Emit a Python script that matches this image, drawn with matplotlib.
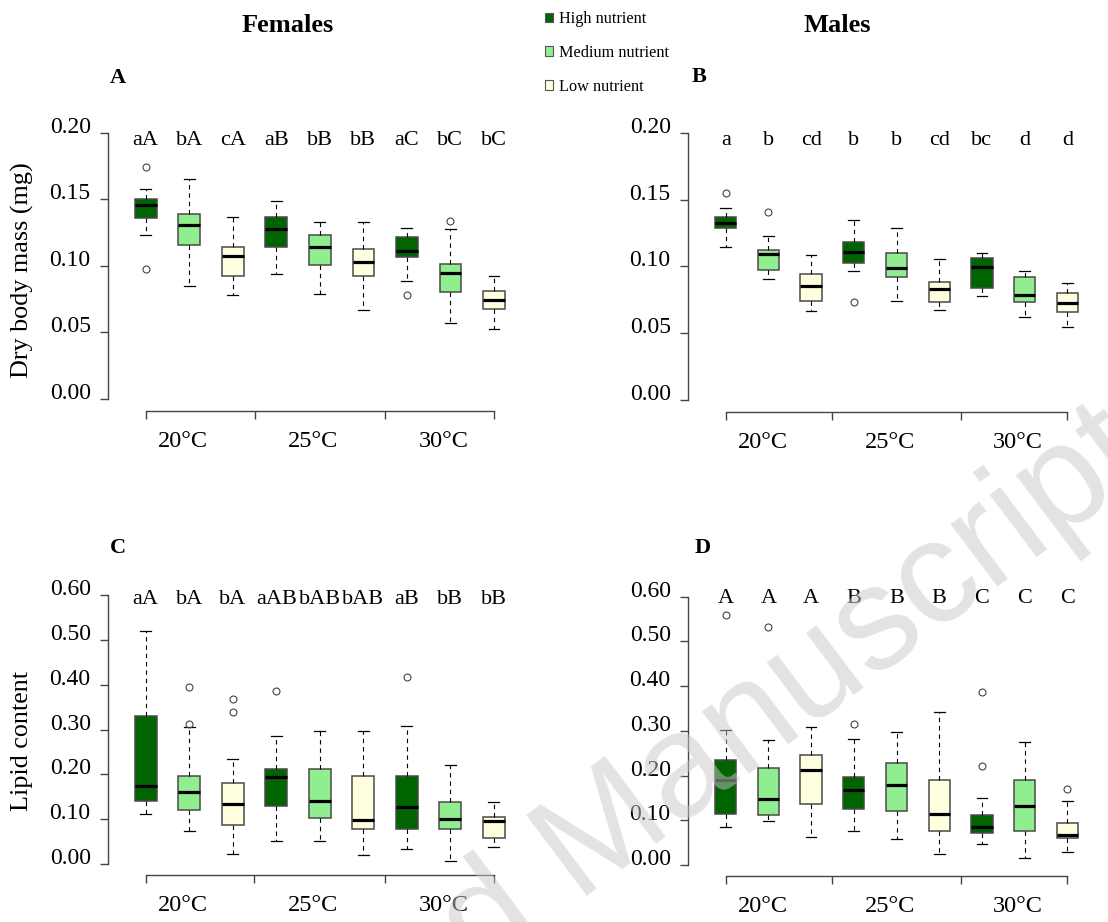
import matplotlib
matplotlib.use('Agg')
import matplotlib.pyplot as plt
from matplotlib.patches import Patch

W, H, DPI = 1108, 922, 100
SERIF = 'Liberation Serif'

# ---------------- data ----------------
temps = ['20°C', '25°C', '30°C']
nutrients = ['High nutrient', 'Medium nutrient', 'Low nutrient']
nutrient_colors = ['#006400', '#90EE90', '#FFFFE0']

# Panel A: females, dry body mass (mg)
fm_lo  = [0.1231, 0.0849, 0.0778, 0.0939, 0.0786, 0.0671, 0.0889, 0.0568, 0.0526]
fm_q1  = [0.1357, 0.1159, 0.0924, 0.1144, 0.1006, 0.0924, 0.1066, 0.0801, 0.0676]
fm_med = [0.1454, 0.1309, 0.1071, 0.1274, 0.1144, 0.1026, 0.1111, 0.0946, 0.0746]
fm_q3  = [0.1500, 0.1389, 0.1144, 0.1369, 0.1231, 0.1129, 0.1214, 0.1011, 0.0813]
fm_hi  = [0.1574, 0.1650, 0.1364, 0.1487, 0.1327, 0.1327, 0.1282, 0.1274, 0.0926]
fm_out = [[0.174, 0.0974], [], [], [], [], [], [0.0781], [0.1339], []]
fm_letters = ['aA', 'bA', 'cA', 'aB', 'bB', 'bB', 'aC', 'bC', 'bC']

# Panel B: males, dry body mass (mg)
mm_lo  = [0.1147, 0.0908, 0.0668, 0.0963, 0.0743, 0.0673, 0.0776, 0.0619, 0.0544]
mm_q1  = [0.1284, 0.0970, 0.0743, 0.1023, 0.0920, 0.0736, 0.0838, 0.0731, 0.0656]
mm_med = [0.1327, 0.1092, 0.0853, 0.1107, 0.0990, 0.0830, 0.0998, 0.0786, 0.0723]
mm_q3  = [0.1372, 0.1125, 0.0940, 0.1180, 0.1102, 0.0885, 0.1062, 0.0920, 0.0803]
mm_hi  = [0.1439, 0.1227, 0.1085, 0.1344, 0.1284, 0.1057, 0.1102, 0.0968, 0.0873]
mm_out = [[0.1551], [0.1409], [], [0.0736], [], [], [], [], []]
mm_letters = ['a', 'b', 'cd', 'b', 'b', 'cd', 'bc', 'd', 'd']

# Panel C: females, lipid content
fl_lo  = [0.1115, 0.0729, 0.0223, 0.0506, 0.0506, 0.0201, 0.0327, 0.0074, 0.0387]
fl_q1  = [0.1405, 0.1204, 0.0870, 0.1301, 0.1019, 0.0781, 0.0781, 0.0781, 0.0573]
fl_med = [0.1732, 0.1613, 0.1346, 0.1933, 0.1413, 0.0981, 0.1279, 0.0996, 0.0967]
fl_q3  = [0.3309, 0.1970, 0.1814, 0.2112, 0.2126, 0.1970, 0.1970, 0.1383, 0.1056]
fl_hi  = [0.5204, 0.3056, 0.2335, 0.2855, 0.2974, 0.2974, 0.3086, 0.2201, 0.1390]
fl_out = [[], [0.3955, 0.3123], [0.368, 0.3383], [0.3859], [], [], [0.4178], [], []]
fl_letters = ['aA', 'bA', 'bA', 'aAB', 'bAB', 'bAB', 'aB', 'bB', 'bB']

# Panel D: males, lipid content
ml_lo  = [0.0842, 0.0991, 0.0634, 0.0753, 0.0574, 0.0238, 0.0470, 0.0149, 0.0283]
ml_q1  = [0.1148, 0.1125, 0.1371, 0.1252, 0.1207, 0.0753, 0.0715, 0.0753, 0.0596]
ml_med = [0.1901, 0.1476, 0.2124, 0.1669, 0.1781, 0.1148, 0.0842, 0.1327, 0.0678]
ml_q3  = [0.2340, 0.2176, 0.2452, 0.1975, 0.2288, 0.1893, 0.1118, 0.1908, 0.0932]
ml_hi  = [0.3019, 0.2795, 0.3086, 0.2825, 0.2974, 0.3413, 0.1491, 0.2758, 0.1431]
ml_out = [[0.5582], [0.5314], [], [0.3153], [], [], [0.3868, 0.2214], [], [0.1692]]
ml_letters = ['A', 'A', 'A', 'B', 'B', 'B', 'C', 'C', 'C']

mass_ticks = [0.00, 0.05, 0.10, 0.15, 0.20]
lipid_ticks = [0.00, 0.10, 0.20, 0.30, 0.40, 0.50, 0.60]

# ---------------- figure ----------------
fig = plt.figure(figsize=(W / DPI, H / DPI), dpi=DPI)
fig.patch.set_facecolor('white')


def make_axes(spine_x, p1_x, p9_x, y0_px, ytop_px, ytop_val, bottom_px, right_px, top_px):
    ux = (p9_x - p1_x) / 8.0
    uy = (y0_px - ytop_px) / ytop_val
    ax = fig.add_axes([spine_x / W, 1 - bottom_px / H,
                       (right_px - spine_x) / W, (bottom_px - top_px) / H])
    ax.set_xlim(1 - (p1_x - spine_x) / ux, 9 + (right_px - p9_x) / ux)
    ax.set_ylim(-(bottom_px - y0_px) / uy, ytop_val + (ytop_px - top_px) / uy)
    ax.patch.set_alpha(0)
    return ax


def draw_panel(ax, lo, q1, med, q3, hi, out, letters, yticks, letter_y):
    stats = [dict(whislo=a, q1=b, med=c, q3=d, whishi=e, fliers=f)
             for a, b, c, d, e, f in zip(lo, q1, med, q3, hi, out)]
    bp = ax.bxp(stats, positions=list(range(1, 10)), widths=0.5, patch_artist=True,
                showfliers=True, capwidths=0.25,
                boxprops=dict(edgecolor='#4a4a4a', linewidth=1.1),
                medianprops=dict(color='black', linewidth=2.3, solid_capstyle='butt'),
                whiskerprops=dict(color='black', linestyle=(0, (4, 3.5)), linewidth=0.8),
                capprops=dict(color='black', linewidth=0.9),
                flierprops=dict(marker='o', markersize=5, markerfacecolor='none',
                                markeredgecolor='#444444', markeredgewidth=0.8))
    for patch, col in zip(bp['boxes'], nutrient_colors * 3):
        patch.set_facecolor(col)

    for s in ['top', 'right']:
        ax.spines[s].set_visible(False)
    for s in ['left', 'bottom']:
        ax.spines[s].set_color('#444444')
        ax.spines[s].set_linewidth(1.0)
    ax.spines['left'].set_bounds(yticks[0], yticks[-1])
    ax.spines['bottom'].set_bounds(1, 9)

    ax.set_xticks([1, 3.5, 6.5, 9])
    ax.set_xticklabels([])
    ax.tick_params(axis='x', direction='out', length=6, width=1.0, color='#444444')
    ax.set_yticks(yticks)
    ax.set_yticklabels([f'{v:.2f}' for v in yticks], fontsize=17, family=SERIF)
    ax.tick_params(axis='y', direction='out', length=6, width=1.0, color='#444444', pad=6.5)
    for lab in ax.get_yticklabels():
        lab.set_verticalalignment('baseline')

    for i, t in enumerate(letters):
        ax.text(i + 1, letter_y, t, ha='center', va='baseline', fontsize=16, family=SERIF)

    for pos, t in zip([1.86, 4.84, 7.85], temps):
        ax.annotate(t, xy=(pos, 0), xycoords=('data', 'axes fraction'),
                    xytext=(0, -26), textcoords='offset points',
                    ha='center', va='baseline', fontsize=17.5, family=SERIF)


axA = make_axes(108, 145.7, 494.0, 399.0, 132.7, 0.20, 410.7, 525, 110)
draw_panel(axA, fm_lo, fm_q1, fm_med, fm_q3, fm_hi, fm_out, fm_letters, mass_ticks, 0.1908)

axB = make_axes(688, 725.7, 1067.3, 400.0, 132.7, 0.20, 411.7, 1100, 110)
draw_panel(axB, mm_lo, mm_q1, mm_med, mm_q3, mm_hi, mm_out, mm_letters, mass_ticks, 0.191)

axC = make_axes(108, 145.7, 493.7, 864.0, 595.0, 0.60, 875.3, 525, 575)
draw_panel(axC, fl_lo, fl_q1, fl_med, fl_q3, fl_hi, fl_out, fl_letters, lipid_ticks, 0.581)

axD = make_axes(688, 725.7, 1067.3, 865.0, 596.7, 0.60, 875.7, 1100, 575)
draw_panel(axD, ml_lo, ml_q1, ml_med, ml_q3, ml_hi, ml_out, ml_letters, lipid_ticks, 0.587)

# axis titles
fig.text(22 / W, 1 - 270 / H, 'Dry body mass (mg)', rotation=90, ha='center', va='center',
         fontsize=18.8, family=SERIF)
fig.text(22 / W, 1 - 741 / H, 'Lipid content', rotation=90, ha='center', va='center',
         fontsize=18.8, family=SERIF)

# column titles and panel letters
fig.text(287.5 / W, 1 - 32.3 / H, 'Females', ha='center', va='baseline', fontsize=19,
         fontweight='bold', family=SERIF)
fig.text(837.5 / W, 1 - 32.3 / H, 'Males', ha='center', va='baseline', fontsize=19,
         fontweight='bold', family=SERIF)
for lab, x, y in [('A', 117.5, 82.7), ('B', 699, 81.5), ('C', 117.5, 553), ('D', 703, 553)]:
    fig.text(x / W, 1 - y / H, lab, ha='center', va='baseline', fontsize=16,
             fontweight='bold', family=SERIF)

# legend
handles = [Patch(facecolor=c, edgecolor='#555555', linewidth=0.8) for c in nutrient_colors]
fig.legend(handles, nutrients, loc='upper left', bbox_to_anchor=(545 / W, 1 - 11 / H),
           frameon=False, borderpad=0, borderaxespad=0,
           prop={'family': SERIF, 'size': 11.7}, labelspacing=1.10,
           handlelength=0.5, handleheight=0.5, handletextpad=0.37)

# watermark
fig.text(604.3 / W, 1 - 883 / H, 'Accepted Manuscript', rotation=37, rotation_mode='anchor',
         ha='center', va='baseline', fontsize=106, family='Liberation Sans',
         color='#c8c8c8', alpha=0.5, zorder=20)

fig.savefig('out.png', dpi=DPI)
